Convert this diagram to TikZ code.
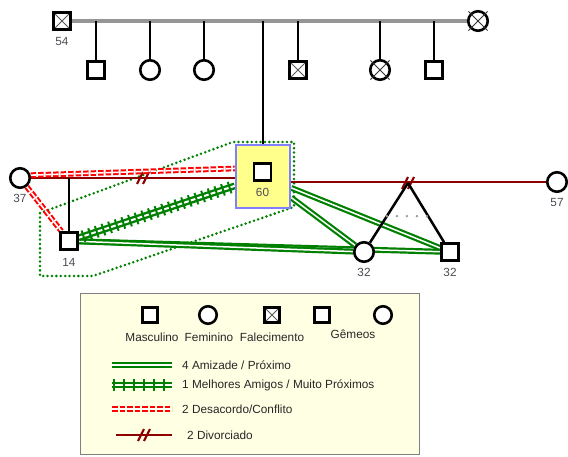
\documentclass[tikz,border=0pt]{standalone}
\usepackage{fontspec}
\setmainfont{Liberation Sans}
\usetikzlibrary{calc,backgrounds,decorations.markings}
\definecolor{frgreen}{RGB}{0,128,0}
\definecolor{divred}{RGB}{140,0,0}
\definecolor{confred}{RGB}{255,0,0}
\definecolor{lblcol}{RGB}{75,75,85}
\definecolor{legfill}{RGB}{255,255,228}
\definecolor{boxfill}{RGB}{255,255,140}
\definecolor{boxedge}{RGB}{128,128,255}
\definecolor{topgray}{RGB}{150,150,150}
\tikzset{
  male/.style={rectangle, draw=black, fill=white, line width=2.6pt, minimum size=17pt, inner sep=0pt},
  female/.style={circle, draw=black, fill=white, line width=2.6pt, minimum size=19.5pt, inner sep=0pt},
  lmale/.style={male, minimum size=15.5pt},
  lfemale/.style={female, minimum size=17.5pt},
  xsq/.style={path picture={\draw[black!65, line width=0.8pt]
      (path picture bounding box.north west) -- (path picture bounding box.south east)
      (path picture bounding box.north east) -- (path picture bounding box.south west);}},
  xcirc/.style={draw=black!80, line width=1pt, shorten <=-2.5pt, shorten >=-2.5pt},
  agelbl/.style={font=\fontsize{11.8}{14}\selectfont, text=lblcol, inner sep=0pt},
  legtxt/.style={font=\fontsize{11.8}{14}\selectfont, text=black!85, inner sep=0pt},
  famline/.style={draw=black, line width=2.5pt},
  topline/.style={draw=topgray, line width=3.5pt},
  divorce/.style={draw=divred, line width=2.5pt},
  divslash/.style={draw=divred, line width=2.2pt},
  conflict/.style={draw=confred, line width=2pt, double=white, double distance=1.6pt, dash pattern=on 5.5pt off 2pt},
  friend/.style={draw=frgreen, line width=2.2pt, double=white, double distance=1.5pt},
  bestfr/.style={draw=frgreen, line width=2.4pt, double=white, double distance=2pt},
  ticks/.style={decorate, decoration={markings, mark=between positions 0.03 and 0.98 step #1 with {\draw[draw=frgreen, line width=2pt] (0pt,-6pt) -- (0pt,6pt);}}},
  grpline/.style={draw=frgreen, line width=2.8pt, line cap=round, dash pattern=on 0pt off 4.4pt},
  twindot/.style={draw=black!40, line width=2.6pt, line cap=round, dash pattern=on 0pt off 10pt},
  divmark/.pic={\draw[divslash] (-6,6) -- (0,-6) (0,6) -- (6,-6);}
}
\begin{document}
\begin{tikzpicture}[x=1pt, y=-1pt]
\useasboundingbox (0,0) rectangle (568,457);

% ---------- people ----------
\node[male, xsq] (n54) at (62,21) {};
\node[female] (ntr) at (478,21) {};
\node[male] (k1) at (96,70) {};
\node[female] (k2) at (150,70) {};
\node[female] (k3) at (204,70) {};
\node[male, xsq] (k4) at (298,70) {};
\node[female] (k5) at (380,70) {};
\node[male] (k6) at (434,70) {};

\node[rectangle, draw=boxedge, fill=boxfill, line width=2.5pt, minimum width=54pt, minimum height=63pt, inner sep=0pt] (n60) at (263,176.5) {};
\node[male] (p60) at (262.5,172) {};
\node[female] (n37) at (20,178) {};
\node[female] (n57) at (557,182) {};
\node[male] (n14) at (69,241) {};
\node[female] (n32c) at (364,252) {};
\node[male] (n32s) at (450,252) {};
\coordinate (tw) at (408,183);

% crosses on deceased females
\draw[xcirc] (ntr.45) -- (ntr.225);
\draw[xcirc] (ntr.135) -- (ntr.315);
\draw[xcirc] (k5.45) -- (k5.225);
\draw[xcirc] (k5.135) -- (k5.315);

% labels
\node[agelbl] (l54) at (62,42) {54};
\node[agelbl] (l60) at (262.5,192) {60};
\node[agelbl] (l37) at (20,198) {37};
\node[agelbl] (l57) at (557,202) {57};
\node[agelbl] (l14) at (69,262) {14};
\node[agelbl] (l32c) at (364,272) {32};
\node[agelbl] (l32s) at (450,272) {32};

% ---------- connectors ----------
\begin{scope}[on background layer]
  \draw[topline] (n54) -- (ntr);
  \foreach \k in {k1,k2,k3,k4,k5,k6} { \draw[famline] (\k) -- (\k |- n54); }
  \draw[famline] (n60) -- (n60 |- n54);

  \draw[grpline] (40,213) -- (233,142) -- (294,142) -- (294,207) -- (93,276) -- (40,276) -- cycle;

  \draw[divorce] (n37) -- (n37 -| n60.west);
  \pic at (143,178) {divmark};
  \draw[famline] (n14) -- (n14 |- n37);
  \draw[divorce] (n57 -| n60.east) -- (n57);
  \pic at (tw) {divmark};

  \draw[conflict] (n37.15) -- ($(n60.west)+(0,-8)$);
  \draw[conflict] (n37) -- (n14);

  \draw[friend] (n14) -- (n32s);
  \draw[friend] (n14) -- (n32c);
  \draw[friend] (n60) -- (n32s);
  \draw[friend] (n60) -- (n32c);
  \draw[bestfr] (n14) -- (n60);
  \path[ticks=7pt] (n14) -- (n60);

  \draw[famline] (tw) -- (n32c);
  \draw[famline] (tw) -- (n32s);
  \draw[twindot] ($(tw)!0.48!(n32c)$) -- ($(tw)!0.48!(n32s)$);
\end{scope}

% ---------- legend ----------
\node[draw=black!50, line width=1.2pt, fill=legfill, minimum width=339pt, minimum height=161pt, anchor=north west, inner sep=0pt] (legend) at (80,293) {};
\node[lmale] (lgm) at (150,315) {};
\node[lfemale] (lgf) at (208,315) {};
\node[lmale, xsq] (lgd) at (272,315) {};
\node[lmale] (lgt1) at (322,315) {};
\node[lfemale] (lgt2) at (383,315) {};
\node[legtxt] (tm) at (152,337) {Masculino};
\node[legtxt] (tf) at (209,337) {Feminino};
\node[legtxt] (td) at (272,337) {Falecimento};
\node[legtxt] (tt) at (353,334) {Gêmeos};

\coordinate (a1) at (112,365); \coordinate (b1) at (172,365);
\draw[friend] (a1) -- (b1);
\node[legtxt, anchor=west] (t1) at (182,365) {4 Amizade / Próximo};

\coordinate (a2) at (112,385); \coordinate (b2) at (172,385);
\draw[bestfr] (a2) -- (b2);
\path[ticks=10pt] (a2) -- (b2);
\node[legtxt, anchor=west] (t2) at (182,385) {1 Melhores Amigos / Muito Próximos};

\coordinate (a3) at (112,409); \coordinate (b3) at (172,409);
\draw[conflict] (a3) -- (b3);
\node[legtxt, anchor=west] (t3) at (182,409) {2 Desacordo/Conflito};

\coordinate (a4) at (116,435); \coordinate (b4) at (172,435);
\draw[divorce] (a4) -- (b4);
\pic at ($(a4)!0.5!(b4)$) {divmark};
\node[legtxt, anchor=west] (t4) at (187,435) {2 Divorciado};
\end{tikzpicture}
\end{document}
